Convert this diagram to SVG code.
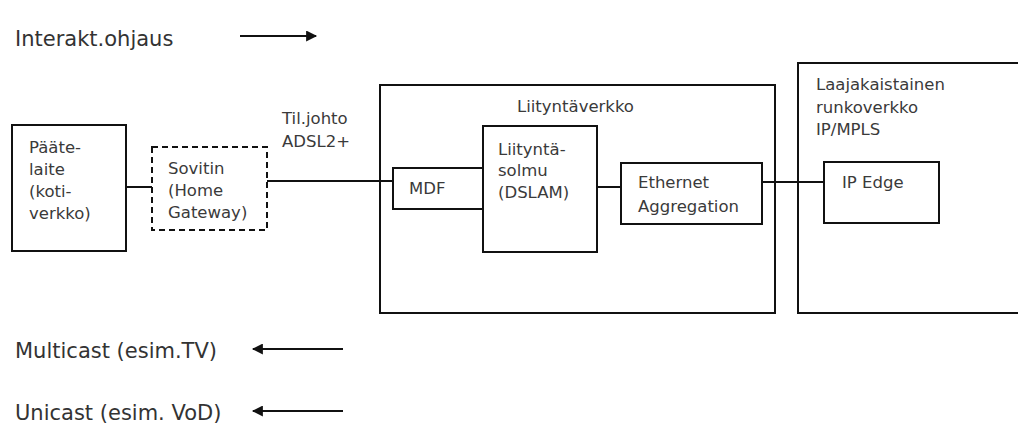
<svg xmlns="http://www.w3.org/2000/svg" width="1018" height="423" viewBox="0 0 1018 423">
<style>
.box{fill:none;stroke:#111;stroke-width:2}
.dash{fill:none;stroke:#111;stroke-width:2;stroke-dasharray:6,4}
.t{font-family:"DejaVu Sans",Verdana,sans-serif;font-size:16.5px;fill:#3a3a3a}
.lbl{font-family:"DejaVu Sans",Verdana,sans-serif;font-size:21px;fill:#333}
.ln{stroke:#111;stroke-width:2;fill:none}
</style>
<defs>
<marker id="ah" viewBox="0 0 10 10" refX="9" refY="5" markerWidth="14" markerHeight="11" markerUnits="userSpaceOnUse" orient="auto">
<path d="M0,0 L10,5 L0,10 z" fill="#111"/>
</marker>
</defs>
<rect width="1018" height="423" fill="#fff"/>
<g id="legend">
<text class="lbl" x="15" y="46">Interakt.ohjaus</text>
<text class="lbl" x="15" y="358">Multicast (esim.TV)</text>
<text class="lbl" x="15" y="420">Unicast (esim. VoD)</text>
</g>
<g id="connectors">
<line class="ln" x1="240" y1="36" x2="316" y2="36" marker-end="url(#ah)"/>
<line class="ln" x1="343" y1="349" x2="253" y2="349" marker-end="url(#ah)"/>
<line class="ln" x1="343" y1="411" x2="253" y2="411" marker-end="url(#ah)"/>
<line class="ln" x1="126" y1="187" x2="152" y2="187"/>
<line class="ln" x1="267" y1="181" x2="393" y2="181"/>
<line class="ln" x1="597" y1="187" x2="621" y2="187"/>
<line class="ln" x1="762" y1="182" x2="824" y2="182"/>
<text class="t" x="282" y="124">Til.johto</text>
<text class="t" x="282" y="147">ADSL2+</text>
</g>
<g id="paatelaite">
<rect class="box" x="12" y="125" width="114" height="126"/>
<text class="t" x="29" y="153">Pääte-</text>
<text class="t" x="29" y="175">laite</text>
<text class="t" x="29" y="197">(koti-</text>
<text class="t" x="29" y="219">verkko)</text>
</g>
<g id="sovitin">
<rect class="dash" x="152" y="147" width="115" height="83"/>
<text class="t" x="168" y="174">Sovitin</text>
<text class="t" x="168" y="196">(Home</text>
<text class="t" x="168" y="218">Gateway)</text>
</g>
<g id="liityntaverkko">
<rect class="box" x="380" y="85" width="395" height="228"/>
<text class="t" x="517" y="112">Liityntäverkko</text>
</g>
<g id="mdf">
<rect class="box" x="393" y="168" width="90" height="41"/>
<text class="t" x="409" y="194">MDF</text>
</g>
<g id="dslam">
<rect class="box" x="483" y="126" width="114" height="126"/>
<text class="t" x="498" y="155">Liityntä-</text>
<text class="t" x="498" y="176">solmu</text>
<text class="t" x="498" y="198">(DSLAM)</text>
</g>
<g id="ethernet">
<rect class="box" x="621" y="163" width="141" height="61"/>
<text class="t" x="638" y="188">Ethernet</text>
<text class="t" x="638" y="212">Aggregation</text>
</g>
<g id="runkoverkko">
<rect class="box" x="798" y="63" width="240" height="250"/>
<text class="t" x="816" y="90">Laajakaistainen</text>
<text class="t" x="816" y="113">runkoverkko</text>
<text class="t" x="816" y="135">IP/MPLS</text>
</g>
<g id="ipedge">
<rect class="box" x="824" y="162" width="115" height="61"/>
<text class="t" x="842" y="188">IP Edge</text>
</g>
</svg>
